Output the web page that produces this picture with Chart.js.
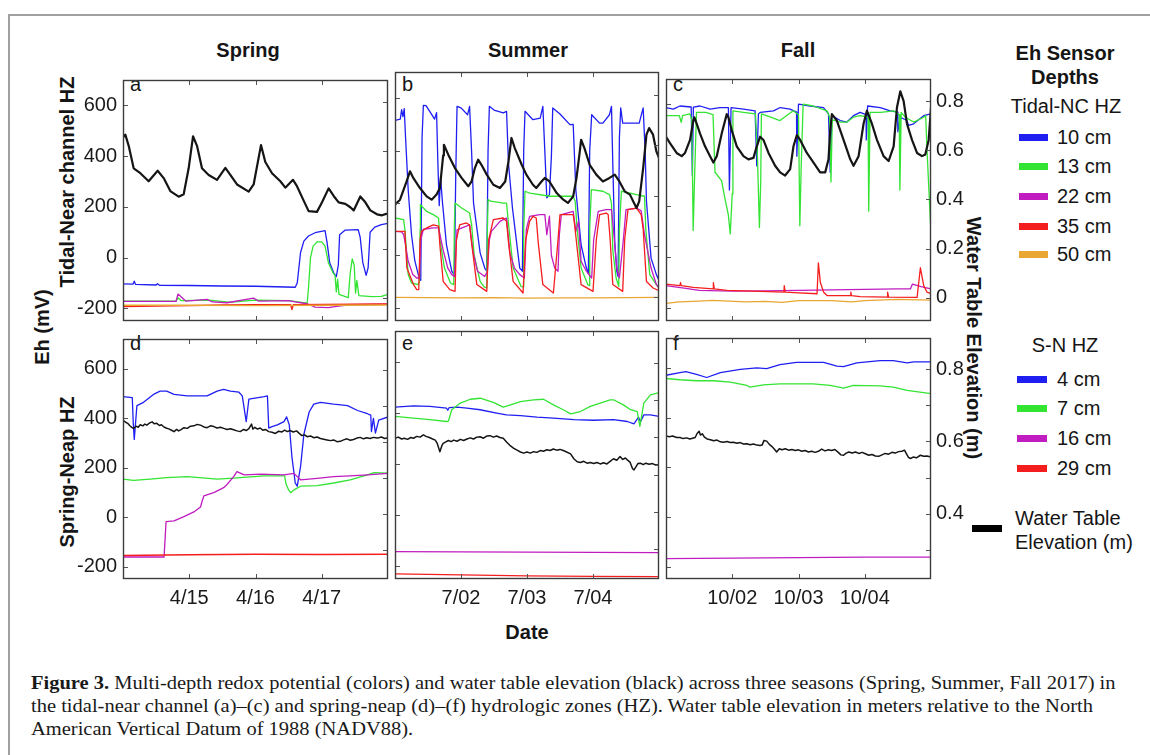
<!DOCTYPE html>
<html><head><meta charset="utf-8">
<script src="https://cdn.jsdelivr.net/npm/chart.js@4.4.1/dist/chart.umd.min.js"></script>
<style>
html,body{margin:0;padding:0;background:#fff;}
#wrap{position:relative;width:1150px;height:755px;overflow:hidden;background:#fff;font-family:"Liberation Sans",Arial,sans-serif;color:#151515;}
.t{position:absolute;white-space:nowrap;font-size:20px;line-height:20px;transform:translate(-50%,-50%);}
.b{font-weight:bold;}
.l{position:absolute;white-space:nowrap;font-size:20px;line-height:20px;transform:translateY(-50%);}
.sw{position:absolute;height:7px;}
canvas{position:absolute;}
#frame{position:absolute;left:8px;top:14px;width:1200px;height:800px;border-top:2px solid #a0a0a0;border-left:2px solid #a0a0a0;}
.cap{position:absolute;left:31px;white-space:nowrap;font-family:"Liberation Serif","Times New Roman",serif;font-size:19.5px;line-height:22px;transform-origin:0 50%;color:#1a1a1a;}
</style></head>
<body><div id="wrap">
<div id="frame"></div>
<div class="t b" style="left:248px;top:50px">Spring</div>
<div class="t b" style="left:528px;top:50px">Summer</div>
<div class="t b" style="left:798px;top:50px">Fall</div>
<div class="t b" style="left:67px;top:182px;transform:translate(-50%,-50%) rotate(-90deg)">Tidal-Near channel HZ</div>
<div class="t b" style="left:42px;top:327px;transform:translate(-50%,-50%) rotate(-90deg)">Eh (mV)</div>
<div class="t b" style="left:67px;top:472px;transform:translate(-50%,-50%) rotate(-90deg)">Spring-Neap HZ</div>
<div class="t b" style="left:974px;top:338px;transform:translate(-50%,-50%) rotate(90deg)">Water Table Elevation (m)</div>
<div class="t b" style="left:527px;top:632px">Date</div>
<div class="l" style="left:130px;top:84px">a</div>
<div class="l" style="left:402px;top:84px">b</div>
<div class="l" style="left:673px;top:84px">c</div>
<div class="l" style="left:130px;top:343px">d</div>
<div class="l" style="left:402px;top:343px">e</div>
<div class="l" style="left:673px;top:343px">f</div>
<div id="legend"></div>
<div class="cap" id="cap1" style="top:672px"><b>Figure 3.</b> Multi-depth redox potential (colors) and water table elevation (black) across three seasons (Spring, Summer, Fall 2017) in</div>
<div class="cap" id="cap2" style="top:695px">the tidal-near channel (a)–(c) and spring-neap (d)–(f) hydrologic zones (HZ). Water table elevation in meters relative to the North</div>
<div class="cap" id="cap3" style="top:718px">American Vertical Datum of 1988 (NADV88).</div>
</div>
<script>
// ---------- tick labels / categories ----------
const springDates = ['4/15','4/16','4/17'];
const summerDates = ['7/02','7/03','7/04'];
const fallDates   = ['10/02','10/03','10/04'];
const dayTicks = [1,2,3];
const ehTicks = [-200,0,200,400,600];
const wtTicksTop = [0,0.2,0.4,0.6,0.8];
const wtTicksBottom = [0.4,0.6,0.8];
const ncDepths = ['10 cm','13 cm','22 cm','35 cm','50 cm'];
const snDepths = ['4 cm','7 cm','16 cm','29 cm'];

// ---------- data: [day since start, value] ----------
// Spring, Tidal-Near channel (panel a)
const spr_nc_10 = [[0,-104],[0.15,-105],[0.17,-93],[0.19,-106],[0.5,-108],[0.52,-103],[0.55,-109],[1.0,-110],[1.5,-112],[2.0,-113],[2.6,-117],[2.63,-100],[2.68,20],[2.73,65],[2.8,85],[2.9,98],[3.05,106],[3.08,60],[3.12,-20],[3.18,-60],[3.22,-75],[3.25,-30],[3.27,90],[3.35,108],[3.55,110],[3.58,80],[3.62,-20],[3.67,-70],[3.70,-40],[3.73,100],[3.8,120],[3.9,130],[4.0,135]];
const spr_nc_13 = [[0,-172],[0.8,-172],[0.83,-158],[0.88,-170],[1.3,-168],[1.6,-176],[2.0,-168],[2.5,-170],[2.78,-180],[2.80,-120],[2.83,0],[2.87,45],[2.93,62],[3.0,62],[3.05,45],[3.10,-20],[3.17,-60],[3.2,-70],[3.22,-135],[3.24,-85],[3.26,-145],[3.40,-158],[3.43,-60],[3.46,-5],[3.49,-30],[3.51,-140],[3.53,-90],[3.56,-150],[3.75,-154],[3.9,-153],[4.0,-145]];
const spr_nc_22 = [[0,-173],[0.8,-173],[0.83,-144],[0.88,-155],[0.95,-172],[1.27,-165],[1.35,-175],[1.57,-178],[1.97,-160],[2.05,-172],[2.5,-170],[2.6,-175],[2.78,-182],[2.9,-195],[3.1,-197],[3.2,-193],[3.4,-186],[4.0,-184]];
const spr_nc_35 = [[0,-193],[0.5,-191],[1,-189],[1.5,-187],[2,-186],[2.53,-186],[2.55,-205],[2.57,-186],[3,-185],[3.5,-184],[4,-183]];
const spr_nc_50 = [[0,-188],[1,-188],[2,-189],[3,-188],[4,-187]];
const spr_nc_wt = [[0.01,0.658],[0.035,0.667],[0.086,0.621],[0.161,0.529],[0.262,0.509],[0.387,0.476],[0.523,0.519],[0.614,0.489],[0.714,0.436],[0.840,0.413],[0.916,0.423],[0.991,0.529],[1.057,0.660],[1.117,0.621],[1.192,0.529],[1.293,0.502],[1.419,0.482],[1.545,0.531],[1.620,0.502],[1.721,0.463],[1.897,0.434],[1.972,0.463],[2.083,0.624],[2.148,0.555],[2.249,0.509],[2.375,0.476],[2.450,0.450],[2.566,0.482],[2.626,0.456],[2.727,0.397],[2.802,0.354],[2.928,0.351],[3.004,0.390],[3.104,0.447],[3.180,0.416],[3.255,0.390],[3.356,0.384],[3.431,0.370],[3.482,0.357],[3.582,0.414],[3.658,0.390],[3.733,0.357],[3.834,0.341],[3.909,0.337],[3.985,0.344]];

// Summer, Tidal-Near channel (panel b)
const sum_nc_10 = [[0,515],[0.08,520],[0.10,556],[0.12,530],[0.14,560],[0.16,450],[0.20,250],[0.25,80],[0.30,-20],[0.37,-90],[0.39,-95],[0.41,450],[0.43,573],[0.47,572],[0.55,540],[0.60,520],[0.63,545],[0.65,350],[0.67,190],[0.69,300],[0.72,200],[0.78,40],[0.86,-60],[0.90,-75],[0.92,300],[0.94,569],[1.0,563],[1.10,537],[1.13,569],[1.16,400],[1.19,200],[1.29,10],[1.36,-48],[1.39,-60],[1.41,400],[1.43,569],[1.50,555],[1.64,544],[1.69,550],[1.72,350],[1.78,180],[1.89,-48],[1.93,-60],[1.95,400],[1.97,550],[2.09,518],[2.20,524],[2.24,569],[2.27,400],[2.30,220],[2.34,232],[2.37,380],[2.39,563],[2.50,540],[2.65,499],[2.70,500],[2.74,250],[2.82,40],[2.90,-48],[2.93,-70],[2.95,400],[2.98,537],[3.10,505],[3.15,505],[3.25,537],[3.28,569],[3.30,350],[3.33,50],[3.36,-60],[3.38,-80],[3.40,450],[3.42,563],[3.45,505],[3.70,505],[3.76,563],[3.79,400],[3.81,207],[3.88,-10],[3.96,-73],[4.0,-95]];
const sum_nc_13 = [[0,143],[0.13,137],[0.15,100],[0.18,-7],[0.20,-73],[0.25,-105],[0.35,-111],[0.37,-100],[0.38,100],[0.385,194],[0.48,168],[0.58,156],[0.66,143],[0.68,60],[0.75,-48],[0.84,-105],[0.89,-111],[0.90,120],[0.91,200],[1.01,181],[1.13,162],[1.16,120],[1.2,0],[1.29,-99],[1.35,-120],[1.39,-124],[1.40,100],[1.41,213],[1.45,207],[1.64,200],[1.69,200],[1.72,120],[1.79,-48],[1.91,-118],[1.94,-120],[1.95,100],[1.97,245],[2.04,238],[2.35,226],[2.40,226],[2.70,226],[2.73,207],[2.76,100],[2.82,-48],[2.92,-111],[2.94,-115],[2.95,100],[2.975,251],[3.15,245],[3.25,232],[3.28,200],[3.30,20],[3.35,-86],[3.39,-118],[3.40,100],[3.43,245],[3.66,232],[3.78,226],[3.80,100],[3.86,-73],[3.96,-111],[4.0,-124]];
const sum_nc_22 = [[0,92],[0.10,90],[0.13,80],[0.15,54],[0.20,-22],[0.27,-73],[0.33,-86],[0.37,-86],[0.39,60],[0.43,100],[0.58,105],[0.66,105],[0.73,20],[0.80,-48],[0.86,-73],[0.90,-80],[0.93,50],[0.94,98],[1.13,117],[1.18,16],[1.25,-60],[1.36,-80],[1.40,-60],[1.43,60],[1.46,92],[1.59,130],[1.69,143],[1.74,10],[1.81,-48],[1.89,-73],[1.96,-86],[1.99,100],[2.04,149],[2.19,156],[2.27,156],[2.30,79],[2.34,150],[2.37,0],[2.42,-48],[2.47,-60],[2.49,80],[2.52,156],[2.70,168],[2.74,92],[2.78,130],[2.82,-22],[2.90,-60],[2.98,-86],[3.01,60],[3.08,168],[3.20,175],[3.28,175],[3.31,100],[3.36,-48],[3.40,-86],[3.46,60],[3.50,175],[3.66,181],[3.73,170],[3.78,80],[3.88,-48],[3.96,-111],[4.0,-124]];
const sum_nc_35 = [[0,92],[0.15,92],[0.18,-48],[0.28,-111],[0.33,-130],[0.36,-130],[0.38,60],[0.40,92],[0.48,105],[0.58,117],[0.66,112],[0.68,40],[0.73,-99],[0.83,-130],[0.91,-137],[0.93,60],[0.98,117],[1.08,124],[1.13,117],[1.16,50],[1.24,-111],[1.39,-137],[1.42,60],[1.49,137],[1.64,143],[1.69,130],[1.72,50],[1.79,-99],[1.94,-143],[1.98,60],[2.04,130],[2.09,149],[2.14,143],[2.17,50],[2.24,-111],[2.40,-143],[2.47,60],[2.50,156],[2.70,156],[2.72,120],[2.82,-111],[3.0,-137],[3.05,60],[3.10,156],[3.20,162],[3.23,156],[3.26,60],[3.30,-111],[3.45,-137],[3.48,60],[3.53,175],[3.66,181],[3.73,156],[3.76,100],[3.81,-99],[3.91,-124],[4.0,-134]];
const sum_nc_50 = [[0,-160],[0.5,-161],[1,-162],[1.5,-161],[2,-163],[2.5,-162],[3,-162],[3.5,-161],[4,-160]];
const sum_nc_wt = [[0,0.365],[0.076,0.385],[0.176,0.457],[0.227,0.497],[0.277,0.471],[0.378,0.431],[0.479,0.398],[0.555,0.385],[0.63,0.405],[0.68,0.431],[0.73,0.560],[0.741,0.602],[0.807,0.563],[0.908,0.510],[1.009,0.471],[1.11,0.438],[1.16,0.457],[1.21,0.510],[1.26,0.543],[1.31,0.523],[1.39,0.484],[1.49,0.444],[1.59,0.431],[1.67,0.457],[1.72,0.537],[1.765,0.629],[1.815,0.589],[1.92,0.523],[1.99,0.484],[2.09,0.444],[2.14,0.431],[2.22,0.457],[2.27,0.471],[2.34,0.457],[2.45,0.411],[2.55,0.385],[2.62,0.372],[2.70,0.398],[2.75,0.471],[2.80,0.576],[2.82,0.622],[2.87,0.589],[2.95,0.523],[3.05,0.484],[3.15,0.457],[3.25,0.471],[3.33,0.484],[3.40,0.457],[3.48,0.418],[3.56,0.405],[3.61,0.378],[3.66,0.352],[3.70,0.378],[3.76,0.510],[3.81,0.642],[3.85,0.668],[3.91,0.642],[3.96,0.576],[4.0,0.550]];

// Fall, Tidal-Near channel (panel c)
const fal_nc_10 = [[0,588],[0.11,582],[0.21,594],[0.38,590],[0.398,321],[0.413,590],[0.514,594],[0.665,582],[0.816,588],[0.942,588],[0.957,264],[0.982,588],[1.169,582],[1.345,575],[1.37,359],[1.395,563],[1.421,569],[1.622,575],[1.723,588],[1.874,582],[1.97,570],[1.975,397],[2.0,601],[2.176,594],[2.378,588],[2.453,563],[2.479,334],[2.504,556],[2.63,537],[2.73,531],[2.83,556],[2.93,569],[3.02,560],[3.023,461],[3.043,594],[3.234,588],[3.385,575],[3.496,570],[3.50,493],[3.537,550],[3.637,537],[3.662,518],[3.738,524],[3.889,556],[4.0,563]];
const fal_nc_13 = [[0,556],[0.2,556],[0.23,530],[0.25,556],[0.36,563],[0.39,540],[0.41,105],[0.43,300],[0.46,569],[0.6,569],[0.71,560],[0.74,334],[0.84,300],[0.89,230],[0.94,168],[0.97,92],[1.0,250],[1.01,575],[1.17,569],[1.35,563],[1.38,400],[1.41,117],[1.43,300],[1.44,563],[1.58,550],[1.72,537],[1.92,575],[2.0,560],[2.02,124],[2.04,350],[2.07,601],[2.22,594],[2.43,575],[2.47,550],[2.49,296],[2.51,540],[2.63,531],[2.73,531],[2.83,550],[2.93,556],[3.05,550],[3.06,181],[3.08,569],[3.24,569],[3.44,575],[3.52,560],[3.53,264],[3.55,569],[3.61,550],[3.74,531],[3.89,550],[3.92,556],[3.94,420],[4.0,92]];
const fal_nc_22 = [[0,-111],[0.3,-122],[0.5,-130],[1.0,-133],[1.5,-132],[2.0,-130],[2.5,-128],[3.0,-126],[3.5,-124],[3.69,-124],[3.72,-105],[3.85,-115],[4.0,-124]];
const fal_nc_35 = [[0,-105],[0.21,-111],[0.22,-99],[0.23,-111],[0.41,-118],[0.71,-124],[0.715,-99],[0.73,-124],[0.92,-130],[1.42,-134],[1.78,-137],[1.785,-111],[1.80,-137],[1.93,-139],[2.28,-143],[2.30,-22],[2.33,-99],[2.38,-137],[2.43,-150],[2.78,-150],[2.79,-137],[2.80,-150],[2.93,-154],[3.34,-156],[3.345,-137],[3.36,-156],[3.79,-157],[3.84,-41],[3.89,-111],[3.94,-137],[4.0,-143]];
const fal_nc_50 = [[0,-181],[0.2,-175],[0.5,-172],[0.7,-169],[1.2,-175],[1.5,-173],[1.75,-177],[2.0,-170],[2.5,-170],[2.8,-175],[3.0,-170],[3.5,-165],[4.0,-168]];
const fal_nc_wt = [[0,0.655],[0.06,0.629],[0.16,0.589],[0.237,0.576],[0.287,0.589],[0.363,0.642],[0.413,0.721],[0.428,0.734],[0.463,0.708],[0.514,0.668],[0.589,0.616],[0.665,0.576],[0.715,0.550],[0.766,0.576],[0.841,0.668],[0.917,0.747],[0.942,0.734],[0.992,0.682],[1.068,0.616],[1.169,0.576],[1.244,0.563],[1.32,0.569],[1.37,0.616],[1.421,0.655],[1.471,0.642],[1.547,0.589],[1.647,0.537],[1.723,0.510],[1.798,0.497],[1.874,0.523],[1.924,0.616],[1.975,0.662],[2.025,0.642],[2.126,0.589],[2.227,0.550],[2.327,0.510],[2.403,0.510],[2.453,0.563],[2.479,0.682],[2.504,0.747],[2.579,0.721],[2.68,0.642],[2.781,0.563],[2.831,0.537],[2.907,0.576],[2.982,0.708],[3.033,0.761],[3.108,0.708],[3.184,0.642],[3.284,0.576],[3.36,0.556],[3.436,0.616],[3.486,0.774],[3.537,0.840],[3.587,0.800],[3.637,0.708],[3.713,0.642],[3.789,0.589],[3.864,0.576],[3.914,0.583],[3.965,0.642],[4.0,0.774]];

// Spring, Spring-Neap (panel d)
const spr_sn_4 = [[0,487],[0.14,483],[0.155,380],[0.17,314],[0.21,451],[0.31,464],[0.46,496],[0.56,509],[0.66,509],[0.77,496],[0.97,490],[1.27,490],[1.42,509],[1.52,516],[1.62,509],[1.75,505],[1.80,490],[1.86,386],[1.90,477],[2.13,487],[2.18,490],[2.20,360],[2.25,366],[2.33,373],[2.43,386],[2.47,405],[2.51,373],[2.55,243],[2.60,138],[2.63,125],[2.68,204],[2.73,334],[2.81,425],[2.88,457],[2.98,464],[3.18,457],[3.39,451],[3.54,431],[3.69,418],[3.74,412],[3.75,346],[3.78,399],[3.81,340],[3.86,392],[4.0,405]];
const spr_sn_7 = [[0,154],[0.16,149],[0.41,154],[0.66,160],[0.97,164],[1.42,154],[1.67,158],[2.13,167],[2.44,167],[2.46,135],[2.5,110],[2.53,99],[2.58,110],[2.68,125],[2.93,127],[3.18,138],[3.43,151],[3.69,171],[3.79,180],[4.0,178]];
const spr_sn_16 = [[0,-161],[0.62,-161],[0.65,-18],[0.77,-15],[0.92,2],[1.07,21],[1.17,41],[1.19,60],[1.22,86],[1.37,99],[1.52,119],[1.57,132],[1.67,164],[1.72,184],[1.83,171],[2.08,174],[2.43,171],[2.58,177],[2.68,151],[2.93,157],[3.18,164],[3.43,167],[3.69,171],[4.0,177]];
const spr_sn_29 = [[0,-155],[1,-152],[2,-150],[3,-151],[4,-150]];
const spr_sn_wt = [[0,0.660],[0.04,0.655],[0.07,0.652],[0.10,0.646],[0.13,0.641],[0.16,0.638],[0.20,0.644],[0.23,0.641],[0.26,0.648],[0.30,0.645],[0.33,0.650],[0.36,0.647],[0.40,0.653],[0.44,0.656],[0.47,0.651],[0.51,0.652],[0.55,0.646],[0.58,0.648],[0.61,0.643],[0.65,0.639],[0.70,0.636],[0.74,0.632],[0.77,0.629],[0.81,0.635],[0.84,0.631],[0.87,0.634],[0.92,0.640],[0.97,0.638],[1.02,0.644],[1.07,0.645],[1.12,0.649],[1.17,0.647],[1.22,0.642],[1.27,0.640],[1.32,0.645],[1.37,0.643],[1.42,0.639],[1.47,0.641],[1.52,0.638],[1.57,0.635],[1.62,0.637],[1.67,0.634],[1.72,0.631],[1.77,0.629],[1.82,0.635],[1.86,0.632],[1.90,0.637],[1.94,0.650],[1.96,0.636],[1.99,0.641],[2.03,0.636],[2.07,0.639],[2.11,0.633],[2.15,0.635],[2.20,0.629],[2.25,0.627],[2.30,0.624],[2.35,0.630],[2.40,0.628],[2.44,0.633],[2.48,0.629],[2.52,0.632],[2.57,0.628],[2.62,0.631],[2.66,0.624],[2.70,0.618],[2.74,0.620],[2.78,0.615],[2.83,0.617],[2.88,0.612],[2.93,0.614],[2.98,0.610],[3.03,0.608],[3.08,0.606],[3.13,0.604],[3.18,0.606],[3.23,0.601],[3.28,0.602],[3.33,0.606],[3.38,0.609],[3.43,0.605],[3.48,0.607],[3.53,0.611],[3.58,0.613],[3.63,0.609],[3.68,0.612],[3.73,0.610],[3.78,0.613],[3.84,0.611],[3.90,0.614],[3.95,0.610],[4.0,0.612]];

// Summer, Spring-Neap (panel e)
const sum_sn_4 = [[0,422],[0.28,427],[0.53,425],[0.78,418],[0.80,410],[0.82,420],[0.94,422],[1.09,418],[1.29,412],[1.54,399],[1.69,392],[1.90,389],[2.15,383],[2.40,379],[2.71,373],[3.01,371],[3.31,373],[3.52,366],[3.62,357],[3.69,383],[3.72,365],[3.77,392],[3.87,392],[4.0,386]];
const sum_sn_7 = [[0,386],[0.28,379],[0.53,373],[0.78,366],[0.81,368],[0.86,412],[0.99,438],[1.14,453],[1.29,457],[1.49,441],[1.64,422],[1.75,431],[1.90,444],[2.10,451],[2.25,453],[2.40,431],[2.55,412],[2.66,396],[2.81,405],[2.96,425],[3.11,438],[3.26,451],[3.31,451],[3.46,431],[3.57,412],[3.67,405],[3.71,347],[3.77,438],[3.87,470],[4.0,479]];
const sum_sn_16 = [[0,-143],[1,-144],[2,-145],[3,-146],[4,-147]];
const sum_sn_29 = [[0,-230],[1,-234],[2,-238],[3,-240],[4,-241]];
const sum_sn_wt = [[0,0.598],[0.05,0.601],[0.10,0.596],[0.14,0.598],[0.19,0.595],[0.24,0.600],[0.28,0.598],[0.33,0.603],[0.38,0.601],[0.43,0.607],[0.47,0.603],[0.52,0.600],[0.57,0.596],[0.61,0.593],[0.64,0.584],[0.68,0.562],[0.71,0.578],[0.73,0.584],[0.77,0.588],[0.81,0.592],[0.85,0.589],[0.89,0.593],[0.94,0.590],[0.99,0.595],[1.04,0.592],[1.09,0.596],[1.14,0.599],[1.19,0.596],[1.24,0.601],[1.29,0.602],[1.34,0.598],[1.39,0.604],[1.44,0.605],[1.49,0.601],[1.54,0.604],[1.59,0.600],[1.64,0.598],[1.69,0.588],[1.74,0.579],[1.80,0.571],[1.85,0.566],[1.90,0.561],[1.95,0.558],[2.00,0.561],[2.05,0.558],[2.10,0.562],[2.15,0.560],[2.20,0.565],[2.25,0.563],[2.30,0.567],[2.35,0.565],[2.40,0.569],[2.45,0.566],[2.50,0.568],[2.55,0.565],[2.60,0.561],[2.66,0.556],[2.71,0.543],[2.76,0.535],[2.81,0.533],[2.86,0.536],[2.91,0.531],[2.96,0.533],[3.01,0.530],[3.06,0.533],[3.11,0.529],[3.16,0.532],[3.21,0.529],[3.26,0.536],[3.31,0.543],[3.36,0.539],[3.41,0.549],[3.45,0.541],[3.49,0.545],[3.52,0.540],[3.56,0.534],[3.60,0.516],[3.62,0.513],[3.65,0.521],[3.68,0.530],[3.72,0.531],[3.76,0.527],[3.80,0.531],[3.85,0.528],[3.90,0.530],[3.95,0.526],[4.0,0.527]];

// Fall, Spring-Neap (panel f)
const fal_sn_4 = [[0,570],[0.21,581],[0.30,585],[0.46,574],[0.615,561],[0.82,581],[1.12,594],[1.37,600],[1.52,597],[1.72,613],[1.97,622],[2.38,622],[2.58,607],[2.68,605],[2.88,620],[3.23,629],[3.43,629],[3.64,620],[3.74,624],[4.0,624]];
const fal_sn_7 = [[0,557],[0.21,552],[0.46,548],[0.72,548],[0.97,542],[1.22,529],[1.27,522],[1.47,531],[1.72,535],[2.22,535],[2.48,529],[2.68,518],[2.83,529],[3.23,527],[3.43,522],[3.64,509],[4.0,496]];
const fal_sn_16 = [[0,-168],[1,-166],[2,-164],[3,-162],[4,-162]];
const fal_sn_29 = [[0,-256],[2.3,-256],[2.38,-249],[2.63,-249],[2.7,-256],[3.3,-256],[3.38,-249],[3.64,-249],[3.7,-256],[4,-256]];
const fal_sn_wt = [[0,0.615],[0.05,0.613],[0.10,0.615],[0.16,0.611],[0.21,0.611],[0.26,0.608],[0.31,0.610],[0.36,0.607],[0.40,0.609],[0.44,0.611],[0.47,0.622],[0.50,0.628],[0.52,0.618],[0.55,0.621],[0.58,0.612],[0.62,0.607],[0.67,0.605],[0.72,0.602],[0.77,0.604],[0.82,0.599],[0.87,0.598],[0.92,0.600],[0.97,0.597],[1.02,0.598],[1.07,0.595],[1.12,0.597],[1.17,0.593],[1.22,0.594],[1.27,0.591],[1.32,0.593],[1.37,0.590],[1.42,0.589],[1.45,0.590],[1.48,0.603],[1.52,0.601],[1.56,0.592],[1.60,0.586],[1.64,0.578],[1.67,0.571],[1.71,0.580],[1.75,0.577],[1.80,0.580],[1.85,0.576],[1.90,0.578],[1.95,0.575],[2.00,0.577],[2.05,0.573],[2.10,0.575],[2.15,0.571],[2.20,0.573],[2.25,0.570],[2.30,0.573],[2.35,0.579],[2.40,0.574],[2.45,0.577],[2.50,0.575],[2.55,0.578],[2.60,0.570],[2.64,0.563],[2.68,0.562],[2.72,0.568],[2.76,0.571],[2.81,0.568],[2.86,0.571],[2.91,0.567],[2.96,0.570],[3.01,0.566],[3.06,0.562],[3.11,0.564],[3.16,0.560],[3.21,0.559],[3.26,0.563],[3.31,0.567],[3.36,0.565],[3.41,0.570],[3.46,0.568],[3.51,0.572],[3.56,0.573],[3.60,0.576],[3.63,0.566],[3.66,0.556],[3.69,0.553],[3.73,0.557],[3.78,0.555],[3.84,0.562],[3.89,0.559],[3.94,0.560],[4.0,0.557]];

// ---------- styling ----------
const COL = {blue:'#1f1ff2', green:'#33e433', magenta:'#c01cc0', red:'#f41e1e', orange:'#e9a632', black:'#151515'};
const COLS = [[123,388],[395,659],[666,931]];
const ROWS = [[72,321],[331,579]];
const FONT = {family:'"Liberation Sans", Arial, sans-serif', size:20};

const framePlugin = {
  id:'frame',
  afterDatasetsDraw(chart, args, o){
    const {ctx, chartArea:a, scales} = chart;
    ctx.save();
    const ln=(x1,y1,x2,y2)=>{ctx.beginPath();ctx.moveTo(x1,y1);ctx.lineTo(x2,y2);ctx.stroke();};
    ctx.strokeStyle='#555'; ctx.lineWidth=1;
    const L=5;
    dayTicks.forEach(v=>{const px=Math.round(scales.x.getPixelForValue(v))+0.5; ln(px,a.bottom,px,a.bottom-L); ln(px,a.top,px,a.top+L);});
    ehTicks.forEach(v=>{const py=Math.round(scales.y.getPixelForValue(v))+0.5; ln(a.left,py,a.left+L,py);});
    o.wt.forEach(v=>{const py=Math.round(scales.y2.getPixelForValue(v))+0.5; ln(a.right,py,a.right-L,py);});
    ctx.strokeStyle='#3c3c3c'; ctx.lineWidth=1.4;
    ctx.strokeRect(a.left+0.5, a.top+0.5, a.right-a.left-1, a.bottom-a.top-1);
    ctx.restore();
  }
};

const wrap = document.getElementById('wrap');
function panel(col, row, sets, o){
  const [x0,x1]=COLS[col], [y0,y1]=ROWS[row];
  const cv=document.createElement('canvas');
  const W=(x1-x0)+130, H=(y1-y0)+55;
  cv.width=W; cv.height=H;
  cv.style.left=(x0-70)+'px'; cv.style.top=(y0-10)+'px';
  wrap.appendChild(cv);
  new Chart(cv.getContext('2d'), {
    type:'line',
    data:{datasets: sets.map(s=>({data:s[0].map(p=>({x:p[0],y:p[1]})), borderColor:s[1], borderWidth:s[2], yAxisID:s[3], order:s[4],
      pointRadius:0, tension:0, fill:false, clip:0, borderJoinStyle:'round'}))},
    options:{
      responsive:false, animation:false, events:[],
      layout:{padding:{top:10,left:0,right:0,bottom:0}},
      plugins:{legend:{display:false}, tooltip:{enabled:false}, frame:{wt:o.wtMarks}},
      scales:{
        x:{type:'linear', min:0, max:4, grid:{display:false,drawTicks:false}, border:{display:false},
           afterBuildTicks:s=>{s.ticks=dayTicks.map(v=>({value:v}));},
           afterFit:s=>{s.height=45;},
           ticks:{display:row===1, padding:7, font:FONT, color:'#1a1a1a', autoSkip:false, maxRotation:0, callback:(v,i)=>o.dates[i]}},
        y:{type:'linear', position:'left', min:o.ehMin, max:o.ehMax, grid:{display:false,drawTicks:false}, border:{display:false},
           afterBuildTicks:s=>{s.ticks=ehTicks.map(v=>({value:v}));},
           afterFit:s=>{s.width=70;},
           ticks:{display:col===0, padding:6, font:FONT, color:'#1a1a1a', autoSkip:false}},
        y2:{type:'linear', position:'right', min:o.wtMin, max:o.wtMax, grid:{display:false,drawTicks:false}, border:{display:false},
           afterBuildTicks:s=>{s.ticks=o.wtLabels.map(v=>({value:v}));},
           afterFit:s=>{s.width=60;},
           ticks:{display:col===2, padding:5, font:FONT, color:'#1a1a1a', autoSkip:false, callback:v=>v===0?'0':v.toFixed(1)}}
      }
    },
    plugins:[framePlugin]
  });
}

const TOP = {ehMin:-250, ehMax:700, wtMin:-0.095, wtMax:0.89, wtLabels:wtTicksTop, wtMarks:[0,0.2,0.4,0.6,0.8]};
const BOT = {ehMin:-250, ehMax:720, wtMin:0.22, wtMax:0.886, wtLabels:wtTicksBottom, wtMarks:[0.3,0.4,0.5,0.6,0.7,0.8]};
const cw=1.3, kwT=2.2, kwB=1.5;

panel(0,0,[[spr_nc_wt,COL.black,kwT,'y2',0],[spr_nc_50,COL.orange,cw,'y',1],[spr_nc_35,COL.red,cw,'y',2],[spr_nc_22,COL.magenta,cw,'y',3],[spr_nc_13,COL.green,cw,'y',4],[spr_nc_10,COL.blue,cw,'y',5]], {...TOP, dates:springDates});
panel(1,0,[[sum_nc_wt,COL.black,kwT,'y2',0],[sum_nc_50,COL.orange,cw,'y',1],[sum_nc_35,COL.red,cw,'y',2],[sum_nc_22,COL.magenta,cw,'y',3],[sum_nc_13,COL.green,cw,'y',4],[sum_nc_10,COL.blue,cw,'y',5]], {...TOP, dates:summerDates});
panel(2,0,[[fal_nc_wt,COL.black,kwT,'y2',0],[fal_nc_50,COL.orange,cw,'y',1],[fal_nc_35,COL.red,cw,'y',2],[fal_nc_22,COL.magenta,cw,'y',3],[fal_nc_13,COL.green,cw,'y',4],[fal_nc_10,COL.blue,cw,'y',5]], {...TOP, dates:fallDates});
panel(0,1,[[spr_sn_wt,COL.black,kwB,'y2',0],[spr_sn_29,COL.red,cw,'y',2],[spr_sn_16,COL.magenta,cw,'y',3],[spr_sn_7,COL.green,cw,'y',4],[spr_sn_4,COL.blue,cw,'y',5]], {...BOT, dates:springDates});
panel(1,1,[[sum_sn_wt,COL.black,kwB,'y2',0],[sum_sn_29,COL.red,cw,'y',2],[sum_sn_16,COL.magenta,cw,'y',3],[sum_sn_7,COL.green,cw,'y',4],[sum_sn_4,COL.blue,cw,'y',5]], {...BOT, dates:summerDates});
panel(2,1,[[fal_sn_wt,COL.black,kwB,'y2',0],[fal_sn_29,COL.red,cw,'y',2],[fal_sn_16,COL.magenta,cw,'y',3],[fal_sn_7,COL.green,cw,'y',4],[fal_sn_4,COL.blue,cw,'y',5]], {...BOT, dates:fallDates});

// ---------- legend ----------
const lg = document.getElementById('legend');
function txt(cls, x, y, s){ const d=document.createElement('div'); d.className=cls; d.style.left=x+'px'; d.style.top=y+'px'; d.textContent=s; lg.appendChild(d); }
function sw(x, y, w, c){ const d=document.createElement('div'); d.className='sw'; d.style.left=x+'px'; d.style.top=(y-3.5)+'px'; d.style.width=w+'px'; d.style.background=c; lg.appendChild(d); }
txt('t b',1065,53,'Eh Sensor');
txt('t b',1065,77,'Depths');
txt('t',1066,106,'Tidal-NC HZ');
const ncCols=[COL.blue,COL.green,COL.magenta,COL.red,COL.orange];
const ncY=[137,166,196,226,254];
ncDepths.forEach((s,i)=>{ sw(1019,ncY[i],29,ncCols[i]); txt('l',1057,ncY[i],s); });
txt('t',1065,345,'S-N HZ');
const snCols=[COL.blue,COL.green,COL.magenta,COL.red];
const snY=[379,408,438,468];
snDepths.forEach((s,i)=>{ sw(1017,snY[i],30,snCols[i]); txt('l',1057,snY[i],s); });
sw(972,528,30,'#000');
txt('l',1015,518,'Water Table');
txt('l',1015,542,'Elevation (m)');

// ---------- caption fit ----------
const c1=document.getElementById('cap1');
const k=1085/c1.scrollWidth;
['cap1','cap2','cap3'].forEach(id=>{document.getElementById(id).style.transform='scaleX('+k+')';});
</script>
</body></html>
